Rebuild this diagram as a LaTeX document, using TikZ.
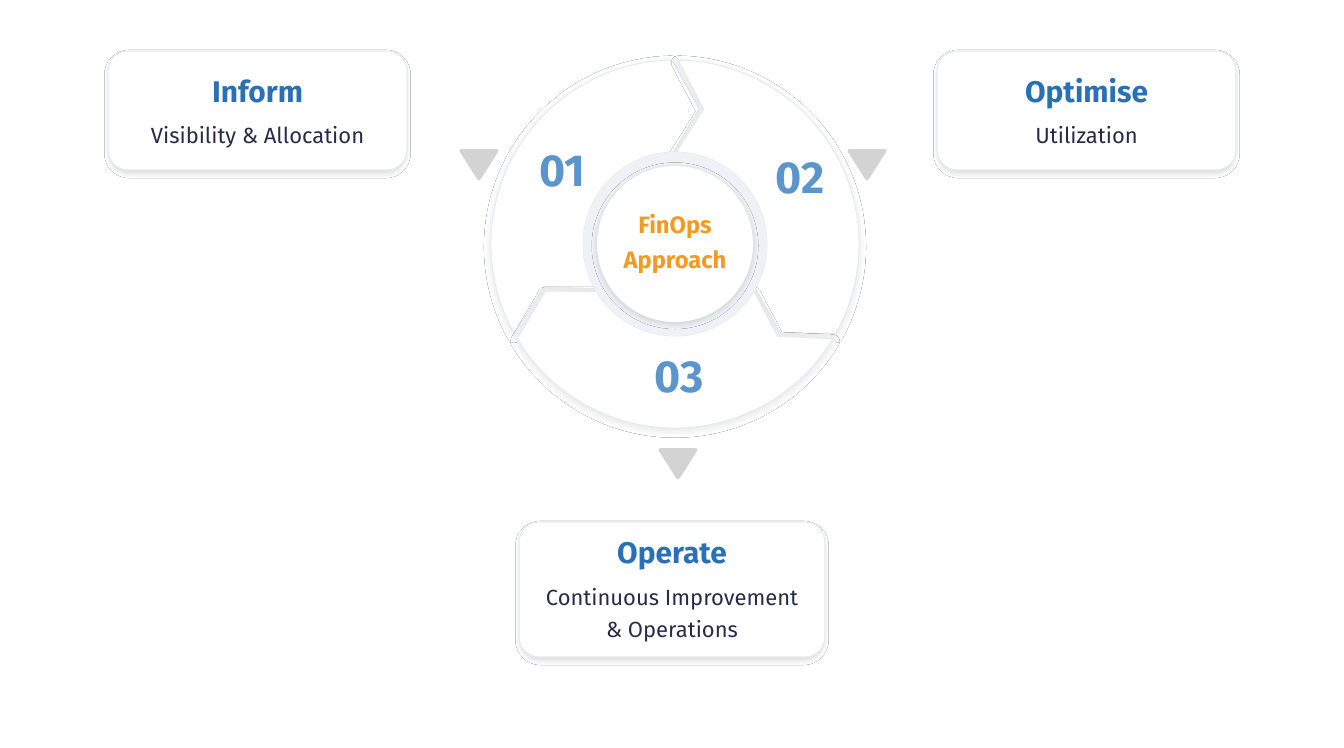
\documentclass[tikz,border=0pt]{standalone}
\usepackage{fontspec}
\setmainfont{Fira Sans}
\usetikzlibrary{shadows, shadows.blur}
\definecolor{titleblue}{HTML}{2A70B6}
\definecolor{numblue}{HTML}{5C95CB}
\definecolor{huborange}{HTML}{F29A22}
\definecolor{subnavy}{HTML}{272B47}
\definecolor{edgegray}{HTML}{E4E9EF}
\definecolor{gapgray}{HTML}{EEF1F5}
\definecolor{tipgray}{HTML}{D3D3D3}

\begin{document}
\begin{tikzpicture}[x=0.02cm, y=-0.02cm]
    \tikzstyle{card}=[rectangle, rounded corners=0.4cm, minimum width=5.98cm,
                      minimum height=2.38cm, fill=white, draw=edgegray, line width=0.6pt,
                      blur shadow={shadow xshift=0pt, shadow yshift=-2pt, shadow scale=0.99,
                                   shadow blur radius=3pt, shadow blur steps=12,
                                   shadow opacity=18}]
    \tikzstyle{ttl}=[anchor=base, font=\bfseries\fontsize{17}{20}\selectfont, text=titleblue]
    \tikzstyle{sub}=[anchor=base, font=\fontsize{12.5}{15}\selectfont, text=subnavy]
    \tikzstyle{num}=[font=\bfseries\fontsize{25.5}{30}\selectfont, text=numblue]
    \tikzstyle{seg}=[fill=white, draw=edgegray, line width=0.5pt,
                     blur shadow={shadow xshift=0pt, shadow yshift=-1.5pt,
                                  shadow blur radius=4pt, shadow blur steps=12,
                                  shadow opacity=12}]
    \tikzstyle{hub}=[circle, minimum size=3.12cm, fill=white, text=huborange, align=center,
                     font=\bfseries\fontsize{13.5}{20}\selectfont,
                     blur shadow={shadow xshift=0pt, shadow yshift=-1pt,
                                  shadow blur radius=3pt, shadow blur steps=12,
                                  shadow opacity=15}]
    \tikzstyle{pointer}=[fill=tipgray, rounded corners=2pt]

    \fill[white] (0,0) rectangle (1344,747);
    \useasboundingbox (0,0) rectangle (1344,747);

    % ring of three arrow segments
    \begin{scope}[shift={(675,244)}]
        \foreach \a in {150,270,390} {
            \pgfmathsetmacro\b{\a+120}
            \draw[seg] (\a+1:92) -- (\a+12:138) -- (\a+1:184)
                arc[start angle=\a+1, end angle=\b-1, radius=184]
                -- (\b+10:138) -- (\b-1:92)
                arc[start angle=\b-1, end angle=\a+1, radius=92] -- cycle;
        }
        \fill[gapgray] (0,0) circle[radius=92];
    \end{scope}
    \node[hub] (hub) at (675,244) {FinOps\\Approach};

    \node[num] (n1) at (562,171) {01};
    \node[num] (n2) at (800,178) {02};
    \node[num] (n3) at (679,377) {03};

    \node[card] (inf) at (257.5,110.5) {};
    \node[card] (opt) at (1086.5,110.5) {};
    \node[card, minimum width=6.12cm, minimum height=2.7cm] (ope) at (672,589.5) {};

    \node[ttl] (inft) at (257.5,102) {Inform};
    \node[sub] (infs) at (257.5,143) {Visibility \& Allocation};
    \node[ttl] (optt) at (1086.5,102) {Optimise};
    \node[sub] (opts) at (1086.5,143) {Utilization};
    \node[ttl] (opet) at (672,563) {Operate};
    \node[sub] (opes) at (672,605) {Continuous Improvement};
    \node[sub] (opeo) at (672,637) {\& Operations};

    \foreach \x/\y in {479/149, 867/149, 678/448}
        \fill[pointer] (\x-21,\y) -- (\x+21,\y) -- (\x,\y+33) -- cycle;
\end{tikzpicture}
\end{document}
